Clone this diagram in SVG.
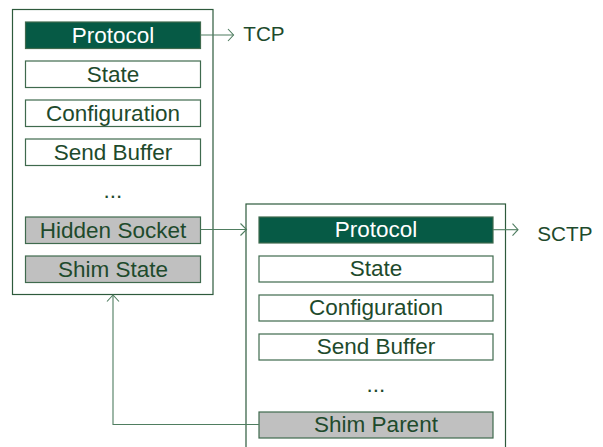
<svg xmlns="http://www.w3.org/2000/svg" width="603" height="447" viewBox="0 0 603 447" font-family="Arial, 'Liberation Sans', sans-serif">
<style>
.outer{fill:#ffffff;stroke:#2e5a3c;stroke-width:1.2}
.box{stroke:#3f6a4e;stroke-width:1.2}
.w{fill:#ffffff}
.g{fill:#c0c0c0}
.p{fill:#065a45}
text{font-family:Arial, 'Liberation Sans', sans-serif;font-size:22.5px;text-anchor:middle;fill:#1e4a2c}
text.wt{fill:#ffffff}
text.lab{font-size:20.7px;text-anchor:start}
.c{fill:none;stroke:#4f7d60;stroke-width:1.1}
</style>
<rect width="603" height="447" fill="#ffffff"/>
<g id="socket1">
<rect class="outer" x="12.5" y="9.5" width="200.5" height="285"/>
<g id="s1-protocol"><rect class="box p" x="25.5" y="22" width="175" height="26.5"/><text class="wt" x="113" y="42.5">Protocol</text></g>
<g id="s1-state"><rect class="box w" x="25.5" y="61" width="175" height="26.5"/><text x="113" y="81.5">State</text></g>
<g id="s1-config"><rect class="box w" x="25.5" y="100" width="175" height="26.5"/><text x="113" y="120.5">Configuration</text></g>
<g id="s1-sendbuf"><rect class="box w" x="25.5" y="139" width="175" height="26.5"/><text x="113" y="159.5">Send Buffer</text></g>
<text x="113" y="198">...</text>
<g id="s1-hidden"><rect class="box g" x="25.5" y="217" width="175" height="26.5"/><text x="113" y="237.5">Hidden Socket</text></g>
<g id="s1-shimstate"><rect class="box g" x="25.5" y="256" width="175" height="26.5"/><text x="113" y="276.5">Shim State</text></g>
</g>
<g id="socket2">
<rect class="outer" x="246" y="204" width="259.5" height="260"/>
<g id="s2-protocol"><rect class="box p" x="259" y="217" width="234" height="26"/><text class="wt" x="376" y="237">Protocol</text></g>
<g id="s2-state"><rect class="box w" x="259" y="256" width="234" height="26"/><text x="376" y="276">State</text></g>
<g id="s2-config"><rect class="box w" x="259" y="295" width="234" height="26"/><text x="376" y="315">Configuration</text></g>
<g id="s2-sendbuf"><rect class="box w" x="259" y="334" width="234" height="26"/><text x="376" y="354">Send Buffer</text></g>
<text x="376" y="391.5">...</text>
<g id="s2-shimparent"><rect class="box g" x="259" y="412" width="234" height="26"/><text x="376" y="432">Shim Parent</text></g>
</g>
<g id="labels">
<text class="lab" x="243.3" y="40.7">TCP</text>
<text class="lab" x="537.3" y="240.7">SCTP</text>
</g>
<g id="connectors">
<line class="c" x1="200.5" y1="35" x2="233.5" y2="35"/>
<polyline class="c" points="228,29 233.5,35 228,41"/>
<line class="c" x1="493" y1="229.7" x2="518" y2="229.7"/>
<polyline class="c" points="512.5,223.7 518,229.7 512.5,235.7"/>
<line class="c" x1="200.5" y1="229.5" x2="246.5" y2="229.5"/>
<polyline class="c" points="240.5,223.5 246.5,229.5 240.5,235.5"/>
<polyline class="c" points="259,424.5 113,424.5 113,295"/>
<polyline class="c" points="107,301.5 113,295 119,301.5"/>
</g>
</svg>
